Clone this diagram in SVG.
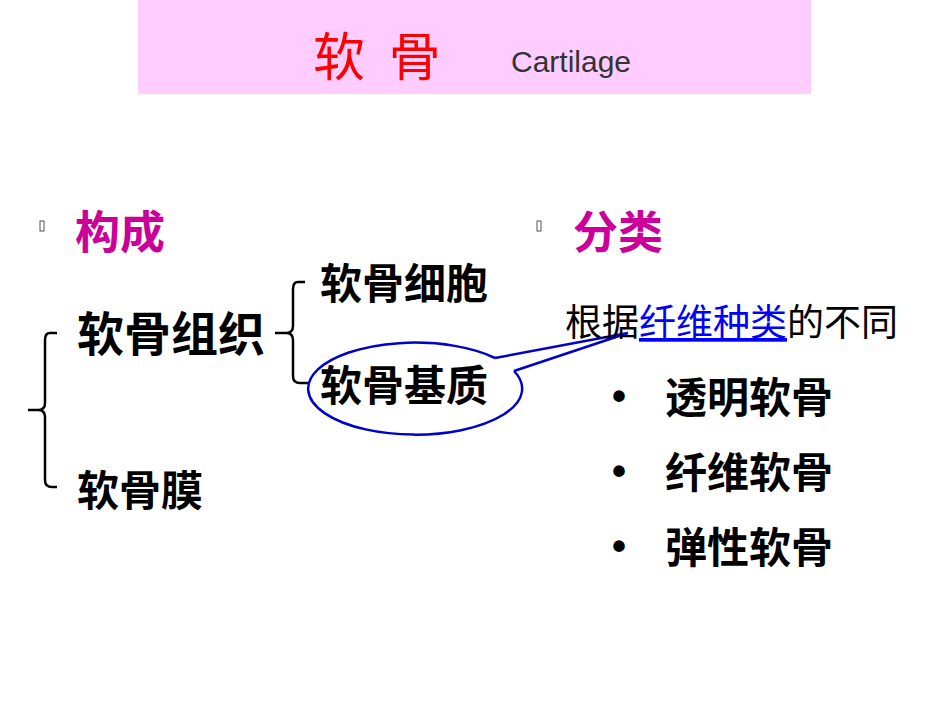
<svg xmlns="http://www.w3.org/2000/svg" width="950" height="713" viewBox="0 0 950 713">
<style>
text{font-family:"Noto Sans CJK SC","Liberation Sans",sans-serif}
.b{font-weight:bold;fill:#000}
.h{font-weight:bold;fill:#CC0099;font-size:45px}
.dot{font-family:"Liberation Sans",sans-serif;font-weight:bold;fill:#000;font-size:40px}
.br{fill:none;stroke:#000;stroke-width:2.5}
</style>
<rect x="0" y="0" width="950" height="713" fill="#fff"/>
<g id="title">
<rect x="138" y="0" width="673" height="94" fill="#FFCCFF"/>
<text x="313" y="76" font-size="52" fill="#FF0000" letter-spacing="6">软 骨</text>
<text x="511" y="72" style="font-family:'Liberation Sans',sans-serif" font-size="30" fill="#333">Cartilage</text>
</g>
<g id="h1"><rect x="40" y="221" width="4" height="10" fill="none" stroke="#555" stroke-width="1"/><text class="h" x="75" y="249">构成</text></g>
<g id="h2"><rect x="537" y="221" width="4" height="10" fill="none" stroke="#555" stroke-width="1"/><text class="h" x="573" y="249">分类</text></g>
<g id="connectors">
<path class="br" d="M57,333 H50 Q45,333 45,340 V403 Q45,410 38,410 H28 M38,410 Q45,410 45,417 V480 Q45,487 52,487 H57"/>
<path class="br" d="M305,282 H298 Q293,282 293,289 V326 Q293,333 286,333 H275 M286,333 Q293,333 293,340 V376 Q293,383 300,383 H310"/>
<path d="M495,358 L628,333 L514,371" fill="none" stroke="#0000CC" stroke-width="2.5"/>
</g>
<g id="n1"><text class="b" x="77" y="351" font-size="47">软骨组织</text></g>
<g id="n2"><text class="b" x="320" y="299" font-size="42">软骨细胞</text></g>
<g id="n3"><path d="M495,358 A107,46 0 1 0 514,371" fill="none" stroke="#0000CC" stroke-width="2.5"/><text class="b" x="320" y="401" font-size="42">软骨基质</text></g>
<g id="n4"><text class="b" x="77" y="506" font-size="42">软骨膜</text></g>
<g id="cls">
<text x="565" y="336" font-size="37" fill="#000">根据<tspan fill="#0000FF" text-decoration="underline">纤维种类</tspan>的不同</text>
</g>
<g id="i1"><text class="dot" x="612" y="410">•</text><text class="b" x="665" y="413" font-size="42">透明软骨</text></g>
<g id="i2"><text class="dot" x="612" y="485">•</text><text class="b" x="665" y="488" font-size="42">纤维软骨</text></g>
<g id="i3"><text class="dot" x="612" y="560">•</text><text class="b" x="665" y="563" font-size="42">弹性软骨</text></g>
</svg>
